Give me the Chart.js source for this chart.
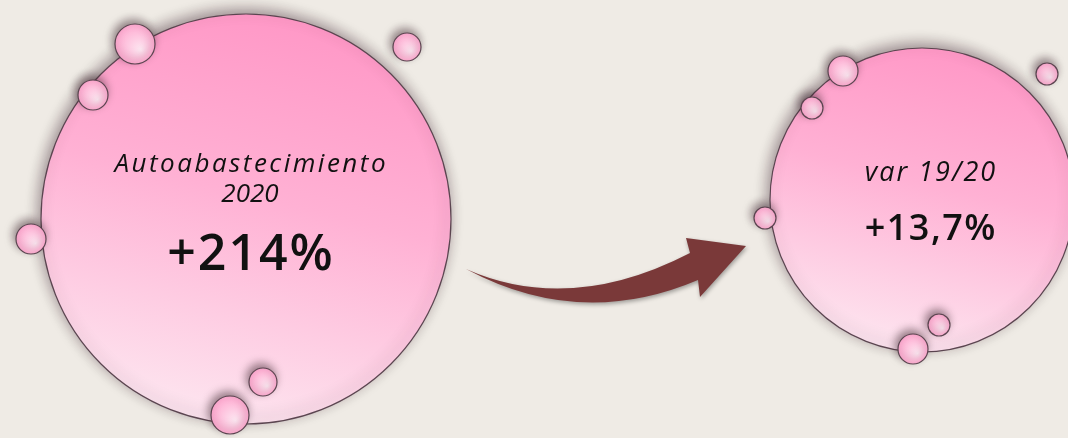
<!DOCTYPE html>
<html>
<head>
<meta charset="utf-8">
<script src="https://cdn.jsdelivr.net/npm/chart.js@4.4.0/dist/chart.umd.min.js"></script>
<style>
  html, body { margin: 0; padding: 0; background: #efebe5; }
  #wrap { width: 1068px; height: 438px; }
</style>
</head>
<body>
<div id="wrap"><canvas id="c" width="1068" height="438"></canvas></div>
<script>
// main figures
var labels = ['Autoabastecimiento\n2020', 'var 19/20'];
var values = [214, 13.7];

// big circles (x, y, r in canvas units)
var mainCircles = [
    { x: 246, y: 219, r: 205 },
    { x: 922, y: 200, r: 152 }
];

// little decorative bubbles around them
var smallBubbles = [
    { x: 135, y: 44, r: 20 },
    { x: 93, y: 95, r: 15 },
    { x: 31, y: 239, r: 15 },
    { x: 407, y: 47, r: 14 },
    { x: 263, y: 382, r: 14 },
    { x: 230, y: 415, r: 19 },
    { x: 843, y: 71, r: 15 },
    { x: 812, y: 108, r: 11 },
    { x: 765, y: 218, r: 11 },
    { x: 1047, y: 74, r: 11 },
    { x: 939, y: 325, r: 11 },
    { x: 913, y: 349, r: 15 }
];

// arrow between the two circles
var arrowPath = {
    tail: [466, 269],
    upperCtrl: [570, 315],
    upperEnd: [690, 253],
    head: [[686, 238], [746, 246], [700, 297]],
    lowerStart: [698, 280],
    lowerCtrl: [580, 330]
};

function fmt(v) {
    return '+' + String(v).replace('.', ',') + '%';
}

function pinkFill(big) {
    return function (context) {
        var chart = context.chart;
        var p = context.raw;
        if (!p || !chart.chartArea) return '#ffb0d2';
        var cx = chart.scales.x.getPixelForValue(p.x);
        var cy = chart.scales.y.getPixelForValue(p.y);
        var g;
        if (big) {
            g = chart.ctx.createLinearGradient(cx + p.r * 0.3, cy - p.r, cx - p.r * 0.2, cy + p.r);
            g.addColorStop(0, '#ff97c6');
            g.addColorStop(0.45, '#ffb1d4');
            g.addColorStop(1, '#fde6f0');
        } else {
            g = chart.ctx.createRadialGradient(cx + p.r * 0.3, cy + p.r * 0.3, 0, cx, cy, p.r);
            g.addColorStop(0, '#fde8f2');
            g.addColorStop(1, '#ffa9d0');
        }
        return g;
    };
}

var shadowPlugin = {
    id: 'shadows',
    beforeDatasetDraw: function (chart, args) {
        var ctx = chart.ctx;
        ctx.save();
        ctx.shadowColor = args.index === 0 ? 'rgba(50,25,35,0.5)' : 'rgba(50,25,35,0.45)';
        ctx.shadowBlur = args.index === 0 ? 9 : 14;
        ctx.shadowOffsetX = -2;
        ctx.shadowOffsetY = -4;
    },
    afterDatasetDraw: function (chart) {
        chart.ctx.restore();
    }
};

var arrowPlugin = {
    id: 'arrow',
    beforeDatasetsDraw: function (chart) {
        var ctx = chart.ctx;
        var sx = chart.scales.x, sy = chart.scales.y;
        function px(pt) { return [sx.getPixelForValue(pt[0]), sy.getPixelForValue(pt[1])]; }
        var a = arrowPath;
        var t = px(a.tail), uc = px(a.upperCtrl), ue = px(a.upperEnd);
        var ls = px(a.lowerStart), lc = px(a.lowerCtrl);
        ctx.save();
        ctx.shadowColor = 'rgba(0,0,0,0.35)';
        ctx.shadowBlur = 4;
        ctx.shadowOffsetX = 1;
        ctx.shadowOffsetY = 2;
        ctx.fillStyle = '#7a3939';
        ctx.beginPath();
        ctx.moveTo(t[0], t[1]);
        ctx.quadraticCurveTo(uc[0], uc[1], ue[0], ue[1]);
        a.head.forEach(function (h) { var q = px(h); ctx.lineTo(q[0], q[1]); });
        ctx.lineTo(ls[0], ls[1]);
        ctx.quadraticCurveTo(lc[0], lc[1], t[0], t[1]);
        ctx.closePath();
        ctx.fill();
        ctx.restore();
    }
};

var textPlugin = {
    id: 'texts',
    afterDatasetsDraw: function (chart) {
        var ctx = chart.ctx;
        var sx = chart.scales.x, sy = chart.scales.y;
        // offsets from circle centre: label lines, value
        var layout = [
            { dx: 4, lineY: [-54, -24], spacing: [2.5, 0], valueY: 37, labelSize: 26, valueSize: 50, valueSpacing: 2 },
            { dx: 8, lineY: [-27], spacing: [2], valueY: 30, labelSize: 27, valueSize: 36, valueSpacing: 1.5 }
        ];
        ctx.save();
        ctx.fillStyle = '#111';
        ctx.textAlign = 'center';
        ctx.textBaseline = 'middle';
        mainCircles.forEach(function (c, i) {
            var cx = sx.getPixelForValue(c.x);
            var cy = sy.getPixelForValue(c.y);
            var L = layout[i];
            ctx.font = 'italic ' + L.labelSize + 'px "Open Sans"';
            labels[i].split('\n').forEach(function (line, j) {
                ctx.letterSpacing = L.spacing[j] + 'px';
                ctx.fillText(line, cx + L.dx + L.spacing[j] / 2, cy + L.lineY[j]);
            });
            ctx.font = '600 ' + L.valueSize + 'px "Open Sans"';
            ctx.letterSpacing = L.valueSpacing + 'px';
            ctx.fillText(fmt(values[i]), cx + L.dx + L.valueSpacing / 2, cy + L.valueY);
        });
        ctx.restore();
    }
};

new Chart(document.getElementById('c'), {
    type: 'bubble',
    data: {
        datasets: [
            {
                label: 'bubbles',
                data: smallBubbles,
                backgroundColor: pinkFill(false),
                borderColor: '#5b4550',
                borderWidth: 1.2,
                clip: false
            },
            {
                label: 'main',
                data: mainCircles,
                backgroundColor: pinkFill(true),
                borderColor: '#5b4550',
                borderWidth: 1.2,
                clip: false
            }
        ]
    },
    options: {
        responsive: false,
        animation: false,
        layout: { padding: 0, autoPadding: false },
        plugins: {
            legend: { display: false },
            tooltip: { enabled: false }
        },
        scales: {
            x: { type: 'linear', min: 0, max: 1068, display: false },
            y: { type: 'linear', min: 0, max: 438, reverse: true, display: false }
        }
    },
    plugins: [shadowPlugin, arrowPlugin, textPlugin]
});
</script>
</body>
</html>
